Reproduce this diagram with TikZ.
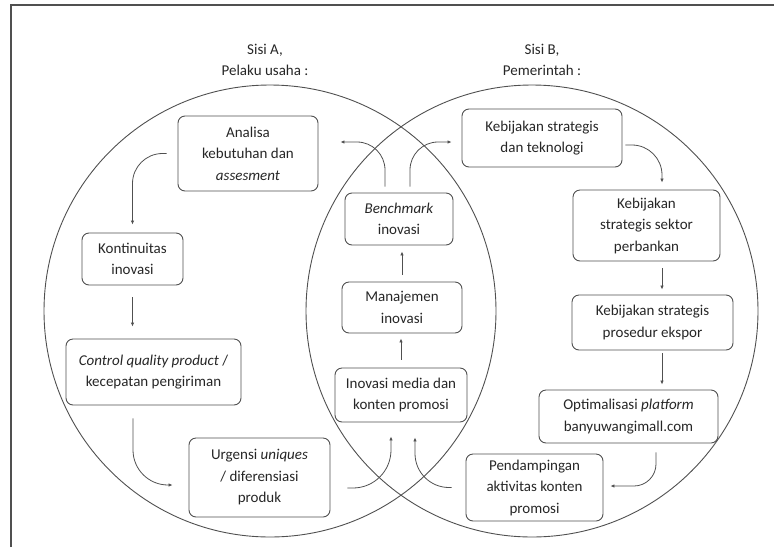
\documentclass[tikz,border=0pt]{standalone}
\usepackage{fontspec}
\setmainfont{Carlito}
\usetikzlibrary{arrows.meta}
\definecolor{ln}{HTML}{505050}
\definecolor{tx}{HTML}{262626}
\begin{document}
\begin{tikzpicture}[x=1pt,y=-1pt,
  box/.style={draw=ln, line width=0.9pt, rounded corners=7pt, align=center, text=tx,
    font=\fontsize{15}{21.5}\selectfont, inner sep=0pt},
  ttl/.style={align=center, text=tx, font=\fontsize{15}{21}\selectfont, inner sep=0pt},
  arr/.style={draw=ln, line width=0.8pt, -{Latex[length=4pt,width=3.5pt]}},
  circ/.style={draw=ln, line width=0.9pt, circle, minimum size=452pt, inner sep=0pt},
]
\useasboundingbox (0,0) rectangle (774,547);
% frame
\draw[draw=ln, line width=1.3pt] (11,547) -- (11,5) -- (774,5);
% circles
\node[circ] (cA) at (270,311) {};
\node[circ] (cB) at (532,311) {};
% titles
\node[ttl] (tA) at (265,60) {Sisi A,\\Pelaku usaha :};
\node[ttl] (tB) at (542,60) {Sisi B,\\Pemerintah :};
% boxes side A
\node[box, minimum width=140pt, minimum height=75pt] (ana) at (248,153.5) {Analisa\\kebutuhan dan\\\textit{assesment}};
\node[box, minimum width=101pt, minimum height=52pt] (kont) at (132.5,259) {Kontinuitas\\inovasi};
\node[box, minimum width=175pt, minimum height=66pt] (ctrl) at (153.5,372) {\textit{Control quality product} /\\kecepatan pengiriman};
\node[box, minimum width=141pt, minimum height=79pt] (urg) at (259.5,477.5) {Urgensi \textit{uniques}\\/ diferensiasi\\produk};
% middle
\node[box, minimum width=108pt, minimum height=52pt] (bench) at (399,219) {\textit{Benchmark}\\inovasi};
\node[box, minimum width=120pt, minimum height=51pt] (man) at (402,307.5) {Manajemen\\inovasi};
\node[box, minimum width=132pt, minimum height=54pt] (inov) at (401,395) {Inovasi media dan\\konten promosi};
% side B
\node[box, minimum width=160pt, minimum height=58pt] (keb1) at (542,138) {Kebijakan strategis\\dan teknologi};
\node[box, minimum width=147pt, minimum height=71pt] (keb2) at (646.5,225.5) {Kebijakan\\strategis sektor\\perbankan};
\node[box, minimum width=161pt, minimum height=55pt] (keb3) at (652.5,322.5) {Kebijakan strategis\\prosedur ekspor};
\node[box, minimum width=179pt, minimum height=53pt] (opt) at (628.5,416.5) {Optimalisasi \textit{platform}\\banyuwangimall.com};
\node[box, minimum width=137pt, minimum height=67pt] (pend) at (534.5,487.5) {Pendampingan\\aktivitas konten\\promosi};
% connectors
\draw[arr, rounded corners=30pt] ([xshift=-11pt]ana.west) -| ([yshift=8pt]kont.north);
\draw[arr, shorten <=12pt, shorten >=12pt] (kont.south) -- (kont.south |- ctrl.north);
\draw[arr, rounded corners=35pt] ([xshift=-20.5pt,yshift=-13pt]ctrl.south) |- ([xshift=-16pt,yshift=-7.5pt]urg.west);
\draw[arr, rounded corners=38pt] ([xshift=17pt,yshift=-10.5pt]urg.east) -| ([xshift=-10pt,yshift=-14pt]inov.south);
\draw[arr, rounded corners=34pt] ([xshift=-14pt]pend.west) -| ([xshift=14pt,yshift=-15pt]inov.south);
\draw[arr, shorten <=8pt, shorten >=5pt] (inov.north) -- (inov.north |- man.south);
\draw[arr, shorten <=7pt, shorten >=6pt] (man.north) -- (man.north |- bench.south);
\draw[arr, rounded corners=28pt] ([xshift=-14pt,yshift=6pt]bench.north) |- ([xshift=22pt,yshift=11.5pt]ana.east);
\draw[arr, rounded corners=28pt] ([xshift=11pt,yshift=6pt]bench.north) |- ([xshift=-10pt,yshift=-4pt]keb1.west);
\draw[arr, rounded corners=30pt] ([xshift=3pt,yshift=-7pt]keb1.east) -| ([xshift=15.5pt,yshift=7pt]keb2.north);
\draw[arr] ([xshift=15.5pt,yshift=-7pt]keb2.south) -- ([xshift=9.5pt,yshift=5pt]keb3.north);
\draw[arr] ([xshift=9.5pt,yshift=-3pt]keb3.south) -- ([xshift=33.5pt,yshift=5pt]opt.north);
\draw[arr, rounded corners=22pt] ([xshift=27.5pt,yshift=-9pt]opt.south) |- ([xshift=7pt,yshift=1.5pt]pend.east);
\end{tikzpicture}
\end{document}
